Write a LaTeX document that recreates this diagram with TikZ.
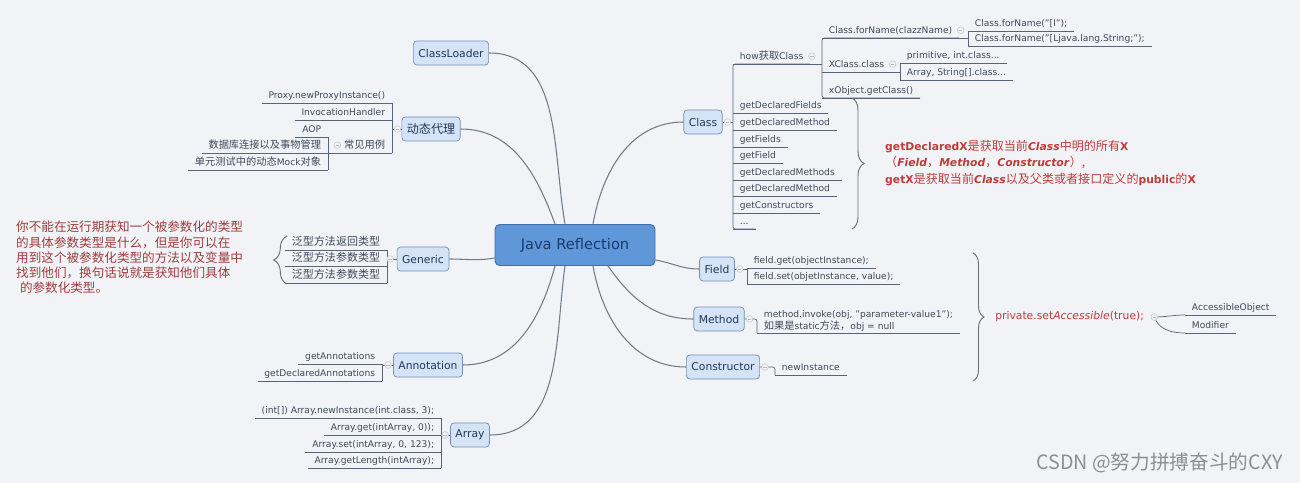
\documentclass[tikz,border=0pt]{standalone}
\usepackage{fontspec}
\setmainfont{DejaVu Sans}
\newfontfamily\cjk[Scale=1.12]{Noto Sans CJK SC}
\usetikzlibrary{calc,decorations.pathreplacing}
\definecolor{Paper}{HTML}{F2F3F7}
\definecolor{Branch}{HTML}{727A84}
\definecolor{ULine}{HTML}{56657A}
\definecolor{Brace}{HTML}{6A6F76}
\definecolor{TopicFill}{HTML}{D4E3F6}
\definecolor{TopicLine}{HTML}{6F8FB5}
\definecolor{TopicInk}{HTML}{20395A}
\definecolor{RootFill}{HTML}{5F97D8}
\definecolor{RootLine}{HTML}{3E6EA8}
\definecolor{RootInk}{HTML}{183C6E}
\definecolor{LeafInk}{HTML}{3D4A5C}
\definecolor{NoteRed}{HTML}{9E3D3D}
\definecolor{AccentRed}{HTML}{C03A3A}
\definecolor{Mark}{HTML}{8E8E8E}
\newcommand{\leaffont}{\fontsize{7.8}{10}\selectfont}
\newcommand{\topicfont}{\fontsize{9.2}{11}\selectfont}
\newcommand{\rootfont}{\fontsize{12.5}{15}\selectfont}
\tikzset{
  root/.style={
    rounded corners=4pt, draw=RootLine, line width=0.8pt, fill=RootFill,
    text=RootInk, font=\rootfont, minimum width=4.8cm, minimum height=1.23cm
  },
  topic/.style={
    rounded corners=3pt, draw=TopicLine, line width=0.6pt, fill=TopicFill,
    text=TopicInk, font=\topicfont, inner xsep=0.15cm, minimum height=0.72cm
  },
  leaf/.style={
    text=LeafInk, font=\leaffont, inner xsep=0.2cm, inner ysep=1pt,
    text height=1.55ex, text depth=0.45ex
  },
  leafl/.style={leaf, anchor=south east,
    append after command={(\tikzlastnode.south west) edge[uline] (\tikzlastnode.south east)}},
  leafr/.style={leaf, anchor=south west,
    append after command={(\tikzlastnode.south west) edge[uline] (\tikzlastnode.south east)}},
  branch/.style={draw=Branch, line width=0.9pt},
  uline/.style={draw=ULine, line width=0.6pt},
  curly/.style={draw=Brace, line width=0.8pt, decorate, decoration={brace, amplitude=#1}},
  fold/.style={
    circle, draw=Branch!45, fill=Paper, line width=0.4pt, inner sep=0pt, minimum size=0.2cm,
    path picture={\draw[Branch!55, line width=0.4pt]
      ([xshift=-0.05cm]path picture bounding box.center) -- ([xshift=0.05cm]path picture bounding box.center);}
  },
  note/.style={align=left, inner sep=0pt}
}
\begin{document}
\begin{tikzpicture}[x=0.03cm, y=-0.03cm]
  \useasboundingbox (0,0) rectangle (1300,483);
  \fill[Paper] (0,0) rectangle (1300,483);

  % centre and main topics
  \node[root] (jr) at (575,245) {Java Reflection};
  \node[topic] (cl) at (451,53) {ClassLoader};
  \node[topic] (dt) at (431,129) {{\cjk 动态代理}};
  \node[topic] (gn) at (423,259) {Generic};
  \node[topic] (an) at (428,365) {Annotation};
  \node[topic] (ar) at (470,435) {Array};
  \node[topic] (cls) at (703,122) {Class};
  \node[topic] (fd) at (717,269) {Field};
  \node[topic] (mt) at (719,319) {Method};
  \node[topic] (ct) at (723,367) {Constructor};

  \draw[branch] (cl.east) to[out=0,in=100] ([xshift=-0.3cm]jr.north);
  \draw[branch] (dt.east) to[out=0,in=110] ([xshift=-0.6cm]jr.north);
  \draw[branch] (gn.east) to[out=0,in=190] ([yshift=-0.39cm]jr.west);
  \draw[branch] (an.east) to[out=0,in=255] ([xshift=-0.6cm]jr.south);
  \draw[branch] (ar.east) to[out=0,in=262] ([xshift=-0.3cm]jr.south);
  \draw[branch] ([xshift=0.54cm]jr.north) to[out=80,in=180] (cls.west);
  \draw[branch] ([yshift=-0.45cm]jr.east) to[out=-10,in=180] (fd.west);
  \draw[branch] ([xshift=0.99cm]jr.south) to[out=-55,in=180] (mt.west);
  \draw[branch] ([xshift=0.54cm]jr.south) to[out=-80,in=180] (ct.west);

  % 动态代理
  \node[leafl] (pxy) at (392,103) {Proxy.newProxyInstance()};
  \node[leafl] (ivh) at (392,120) {InvocationHandler};
  \node[leafl] (cjy) at (392,153) {{\cjk 常见用例}};
  \node[leafl] (aop) at (328,137) {AOP};
  \node[leafl] (sjk) at (328,153) {{\cjk 数据库连接以及事物管理}};
  \node[leafl] (dyc) at (328,170) {{\cjk 单元测试中的动态}Mock{\cjk 对象}};
  \draw[uline] (dt.west) -- (dt.west -| pxy.south east);
  \draw[uline] (pxy.south east) -- (cjy.south east);
  \draw[uline] (cjy.south west) -- (cjy.south west -| aop.south east);
  \draw[uline] (aop.south east) -- (dyc.south east);

  % Generic
  \node[leafl, font=\fontsize{8.4}{10}\selectfont] (g1) at (387,250) {{\cjk 泛型方法返回类型}};
  \node[leafl, font=\fontsize{8.4}{10}\selectfont] (g2) at (387,266) {{\cjk 泛型方法参数类型}};
  \node[leafl, font=\fontsize{8.4}{10}\selectfont] (g3) at (387,283) {{\cjk 泛型方法参数类型}};
  \draw[uline] (gn.west) -- (gn.west -| g1.south east);
  \draw[uline] (g1.south east) -- (g3.south east);
  \coordinate (gbb) at (287,284);
  \coordinate (gbt) at (287,236);
  \draw[curly=0.4cm] (gbb) -- (gbt);

  \node[note, anchor=north west, text=NoteRed, font=\fontsize{9.6}{13}\selectfont\cjk] (para) at (16,221)
    {你不能在运行期获知一个被参数化的类型\\
     的具体参数类型是什么，但是你可以在\\
     用到这个被参数化类型的方法以及变量中\\
     找到他们，换句话说就是获知他们具体\\
     \hspace{0.3em}的参数化类型。};

  % Annotation
  \node[leafl] (ga) at (382,364) {getAnnotations};
  \node[leafl] (gda) at (382,381) {getDeclaredAnnotations};
  \draw[uline] (an.west) -- (an.west -| ga.south east);
  \draw[uline] (ga.south east) -- (gda.south east);

  % Array
  \node[leafl] (a1) at (441,418) {(int[]) Array.newInstance(int.class, 3);};
  \node[leafl] (a2) at (441,435) {Array.get(intArray, 0));};
  \node[leafl] (a3) at (441,452) {Array.set(intArray, 0, 123);};
  \node[leafl] (a4) at (441,468) {Array.getLength(intArray);};
  \draw[uline] (ar.west) -- (ar.west -| a1.south east);
  \draw[uline] (a1.south east) -- (a4.south east);

  % Class
  \node[leafr] (hc) at (733,64) {how{\cjk 获取}Class};
  \node[leafr] (cfn) at (822,38) {Class.forName(clazzName)};
  \node[leafr] (xcc) at (822,72) {XClass.class};
  \node[leafr] (xog) at (822,98) {xObject.getClass()};
  \node[leafr] (fni) at (968,31) {Class.forName("[I");};
  \node[leafr] (fns) at (968,46) {Class.forName("[Ljava.lang.String;");};
  \node[leafr] (pic) at (900,63) {primitive, int.class...};
  \node[leafr] (asc) at (900,80) {Array, String[].class...};
  \node[leafr] (gdf) at (733,113) {getDeclaredFields};
  \node[leafr] (gdm1) at (733,130) {getDeclaredMethod};
  \node[leafr] (gfs) at (733,147) {getFields};
  \node[leafr] (gf) at (733,163) {getField};
  \node[leafr] (gdms) at (733,180) {getDeclaredMethods};
  \node[leafr] (gdm2) at (733,196) {getDeclaredMethod};
  \node[leafr] (gcs) at (733,213) {getConstructors};
  \node[leafr] (dts) at (733,229) {...};
  \draw[uline] (cls.east) -- (cls.east -| hc.south west);
  \draw[uline, rounded corners=2pt] (hc.south east) -- (hc.south west) -- (dts.south west) -- (dts.south east);
  \draw[uline] (hc.south east) -- (hc.south east -| cfn.south west);
  \draw[uline, rounded corners=2pt] (cfn.south east) -- (cfn.south west) -- (xog.south west) -- (xog.south east);
  \draw[uline] (cfn.south east) -- (cfn.south east -| fni.south west);
  \draw[uline] (fni.south west) -- (fns.south west);
  \draw[uline] (xcc.south east) -- (xcc.south east -| pic.south west);
  \draw[uline] (pic.south west) -- (asc.south west);
  \coordinate (cbt) at (852,98);
  \coordinate (cbb) at (852,229);
  \draw[curly=0.36cm] (cbt) -- (cbb);

  \node[note, anchor=north west, text=AccentRed, font=\fontsize{9.2}{14}\selectfont] (gdx) at (885,140)
    {\textbf{getDeclaredX}{\cjk 是获取当前}\textbf{\textit{Class}}{\cjk 中明的所有}\textbf{X}\\
     {\cjk （}\textbf{\textit{Field}}{\cjk ，}\textbf{\textit{Method}}{\cjk ，}\textbf{\textit{Constructor}}{\cjk ）,}\\
     \textbf{getX}{\cjk 是获取当前}\textbf{\textit{Class}}{\cjk 以及父类或者接口定义的}\textbf{public}{\cjk 的}\textbf{X}};

  % Field, Method, Constructor
  \node[leafr] (fg) at (747,268) {field.get(objectInstance);};
  \node[leafr] (fs) at (747,284) {field.set(objetInstance, value);};
  \draw[uline] (fd.east) -- (fd.east -| fg.south west);
  \draw[uline] (fg.south west) -- (fs.south west);
  \node[leafr, align=left, text height=, text depth=] (mi) at (757,333)
    {method.invoke(obj, "parameter-value1");\\{\cjk 如果是}static{\cjk 方法，}obj = null};
  \draw[uline, rounded corners=2pt] (mt.east) -| (mi.south west);
  \node[leafr] (nwi) at (775,375) {newInstance};
  \draw[uline, rounded corners=2pt] (ct.east) -| (nwi.south west);
  \coordinate (bbt) at (973,253);
  \coordinate (bbb) at (973,381);
  \draw[curly=0.33cm] (bbt) -- (bbb);

  \node[anchor=west, inner sep=0pt, text=AccentRed, font=\fontsize{9.2}{11}\selectfont] (pa) at (995,317)
    {private.set\textit{Accessible}(true);};
  \node[leafr] (aob) at (1185,315) {AccessibleObject};
  \node[leafr] (mod) at (1185,333) {Modifier};
  \draw[uline] ([xshift=0.3cm]pa.east) to[out=0,in=180] (aob.south west);
  \draw[uline] ([xshift=0.3cm]pa.east) to[out=-70,in=180] (mod.south west);

  % fold markers
  \node[fold] (fcls) at ([xshift=0.15cm]cls.east) {};
  \node[fold] (fdt) at ([xshift=-0.12cm]dt.west) {};
  \node[fold] (fgn) at ([xshift=-0.2cm]gn.west) {};
  \node[fold] (fan) at ([xshift=-0.15cm]an.west) {};
  \node[fold] (far) at ([xshift=-0.15cm]ar.west) {};
  \node[fold] (ffd) at ([xshift=0.15cm]fd.east) {};
  \node[fold] (fmt) at ([xshift=0.15cm]mt.east) {};
  \node[fold] (fct) at ([xshift=0.15cm]ct.east) {};
  \node[fold] (fhc) at ([xshift=0.05cm]hc.east) {};
  \node[fold] (fcfn) at ([xshift=0.05cm]cfn.east) {};
  \node[fold] (fxcc) at ([xshift=0.05cm]xcc.east) {};
  \node[fold] (fcjy) at (cjy.west) {};
  \node[fold] (fpa) at ([xshift=0.3cm]pa.east) {};

  \node[anchor=east, text=Mark, font=\fontsize{15}{18}\selectfont\cjk] (wm) at (1287,463)
    {CSDN @努力拼搏奋斗的CXY};
\end{tikzpicture}
\end{document}
